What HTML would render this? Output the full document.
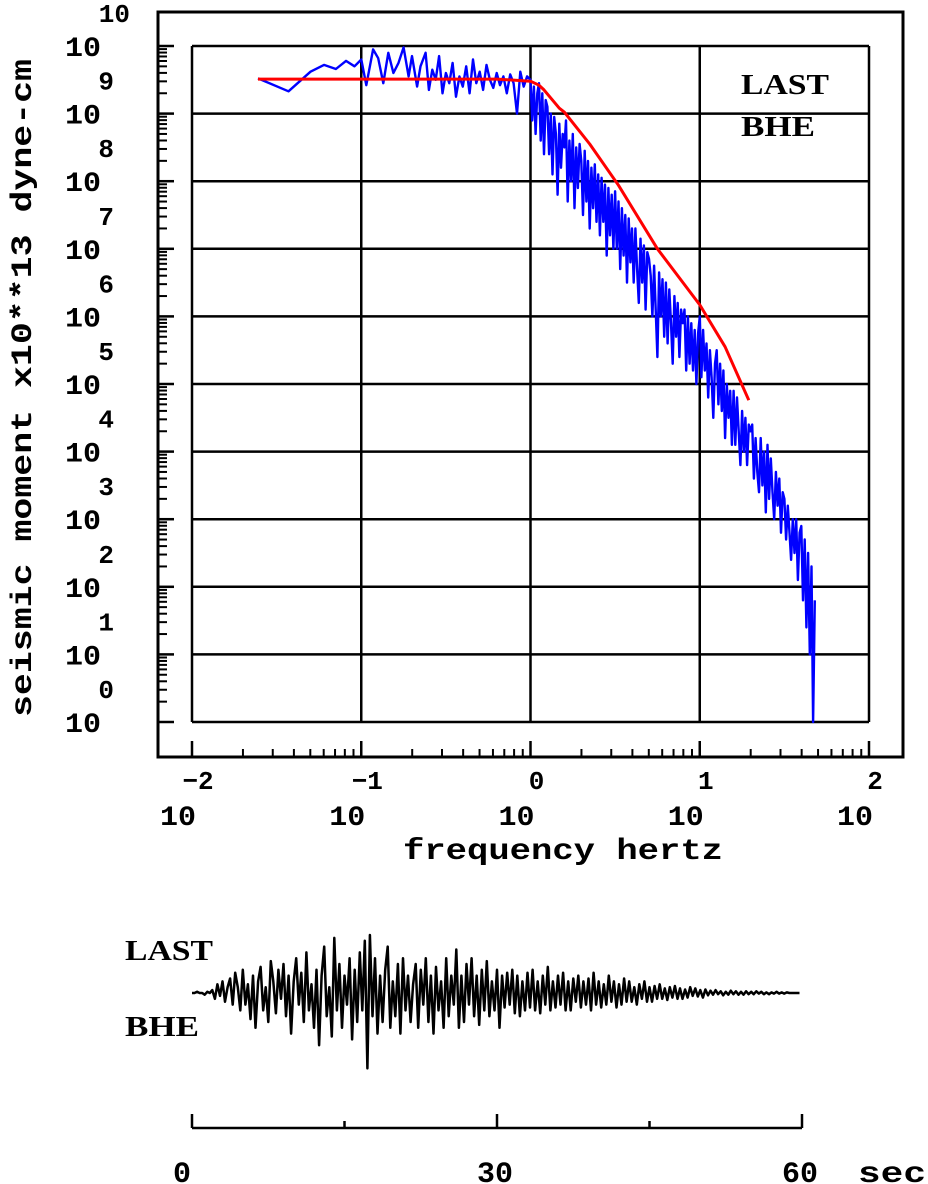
<!DOCTYPE html>
<html><head><meta charset="utf-8"><style>
html,body{margin:0;padding:0;background:#fff;}
svg{display:block;}
text{font-family:"Liberation Mono",monospace;font-weight:bold;fill:#000;}
.serif{font-family:"Liberation Serif",serif;}
</style></head><body>
<svg id="chart" width="928" height="1184" viewBox="0 0 928 1184" xmlns="http://www.w3.org/2000/svg">
<g id="frame"></g>
<g id="seis"></g>
</svg>
<script>
// ---- spectrum data (log10 frequency, log10 moment) ----
const specLogF = [-1.61,-1.43,-1.30,-1.22,-1.15,-1.09,-1.04,-1.00,-0.97,-0.93,-0.90,-0.87,-0.84,-0.81,-0.78,-0.75,-0.72,-0.70,-0.67,-0.65,-0.62,-0.60,-0.58,-0.56,-0.54,-0.52,-0.50,-0.48,-0.46,-0.44,-0.42,-0.40,-0.38,-0.36,-0.34,-0.32,-0.30,-0.28,-0.26,-0.24,-0.22,-0.20,-0.18,-0.16,-0.14,-0.12,-0.10,-0.08,-0.06,-0.04,-0.02];
const specLogM = [9.52,9.33,9.62,9.72,9.66,9.78,9.70,9.80,9.42,9.95,9.82,9.45,9.90,9.60,9.75,9.98,9.55,9.85,9.40,9.70,9.90,9.35,9.65,9.50,9.85,9.30,9.60,9.45,9.75,9.25,9.55,9.40,9.70,9.30,9.80,9.45,9.62,9.35,9.72,9.50,9.38,9.60,9.42,9.55,9.30,9.58,9.45,9.00,9.62,9.40,9.55];
const denseLogM = [
9.5,8.9,9.4,8.7,9.3,9.45,8.6,9.3,8.4,9.2,
9.1,8.4,9.0,8.1,8.95,8.7,7.8,8.85,8.2,8.7,
8.5,8.9,7.7,8.6,8.0,8.7,7.6,8.5,7.9,8.55,
8.3,7.5,8.45,7.7,8.3,7.3,8.2,7.6,8.25,7.4,
8.1,7.2,8.05,7.4,7.95,6.9,7.9,7.2,7.8,7.0,
7.85,7.0,7.7,6.7,7.6,6.9,7.5,6.5,7.45,6.8,
7.3,6.5,7.3,6.7,6.2,7.15,6.5,7.05,6.1,6.95,
6.85,6.6,6.0,6.75,6.1,5.4,6.65,6.0,6.55,5.7,
6.5,5.6,6.4,5.9,5.3,6.3,5.7,6.2,5.4,6.1,
5.9,6.1,5.2,6.0,5.3,5.9,5.2,5.8,5.0,5.75,
6.0,5.1,5.8,5.2,5.6,4.8,5.5,5.1,4.5,5.3,
5.5,4.7,5.3,4.6,5.2,4.2,5.0,4.5,4.9,4.1,
4.9,4.1,4.8,4.3,3.8,4.6,4.0,4.5,3.8,4.4,
4.3,4.4,3.6,4.2,3.7,3.4,4.2,3.5,4.0,3.1,
4.1,3.3,3.9,3.4,3.0,3.7,3.2,3.6,2.8,3.4,
3.3,2.7,3.2,2.8,2.4,3.0,2.5,3.0,2.1,2.8,
2.9,1.8,2.7,1.4,2.5,1.0,2.3,0.0,1.8];
const denseStartLogF = 0.0, denseStepLogF = 0.01;
const modelLogF = [-1.61,-0.2,0.0,0.05,0.08,0.17,0.2,0.35,0.52,0.75,1.0,1.15,1.29];
const modelLogM = [9.51,9.51,9.48,9.42,9.35,9.08,9.02,8.55,7.94,7.0,6.17,5.55,4.76];
const yDecades = [0,1,2,3,4,5,6,7,8,9,10];
const xDecades = [-2,-1,0,1,2];
// ---- seismogram data (4 samples per second, normalized amplitude) ----
const seisValues = [
0,0,0.02,0, 0,-0.03,0.02,0, 0.05,-0.1,0.15,-0.05, 0.2,-0.15,0.1,0.25, -0.2,0.35,0.1,-0.3,
0.4,-0.2,0.15,-0.45, 0.3,-0.6,0.2,0.45, -0.3,0.1,-0.5,0.55, 0.2,-0.35,0.4,-0.1, 0.5,-0.4,0.3,-0.7,
0.2,0.6,-0.2,0.35, -0.5,0.7,-0.3,0.15, -0.6,0.4,-0.9,0.3, 0.8,-0.4,0.1,-0.75, 0.95,-0.3,0.5,-0.6,
0.3,-0.2,0.6,-0.8, 0.4,-0.5,0.7,-0.3, 0.9,-1.3,1.0,-0.4, 0.6,-0.7,0.3,-0.5, 0.4,0.8,-0.6,0.2,
-0.4,0.5,-0.7,0.6, -0.3,0.3,-0.5,0.15, 0.5,-0.6,0.4,-0.2, 0.6,-0.5,0.3,-0.7, 0.45,-0.3,0.2,-0.6,
0.6,-0.4,0.3,-0.2, 0.75,-0.6,0.3,-0.5, 0.5,-0.2,0.6,-0.4, 0.3,-0.55,0.4,-0.3, 0.55,-0.4,0.2,-0.3,
0.4,-0.6,0.3,-0.25, 0.35,-0.2,0.4,-0.35, 0.3,-0.4,0.2,-0.3, 0.35,-0.25,0.4,-0.3, 0.2,-0.35,0.3,-0.2,
0.45,-0.3,0.2,-0.25, 0.3,-0.2,0.35,-0.3, 0.2,-0.3,0.25,-0.15, 0.3,-0.25,0.2,-0.2, 0.25,-0.3,0.35,-0.2,
0.2,-0.25,0.15,-0.2, 0.3,-0.15,0.2,-0.25, 0.15,-0.2,0.25,-0.15, 0.2,-0.15,0.1,-0.2, 0.15,-0.1,0.2,-0.15,
0.1,-0.15,0.12,-0.1, 0.15,-0.1,0.08,-0.12, 0.1,-0.08,0.12,-0.1, 0.08,-0.1,0.06,-0.08, 0.1,-0.05,0.08,-0.06,
0.05,-0.08,0.06,-0.04, 0.04,-0.03,0.05,-0.02, 0.03,-0.04,0.02,-0.03, 0.04,-0.02,0.03,-0.03, 0.02,-0.03,0.03,-0.02,
0.02,-0.02,0.03,-0.01, 0.02,-0.02,0.01,-0.02, 0.01,-0.01,0.02,-0.01, 0.01,-0.01,0.01,0, 0,0,0,0];
const seisRate = 4;
const timeTicks = [0,15,30,45,60];
const timeLabels = [0,30,60];

const NS='http://www.w3.org/2000/svg';
function mk(parent,tag,attrs,txt){const e=document.createElementNS(NS,tag);for(const k in attrs)e.setAttribute(k,attrs[k]);if(txt!==undefined)e.textContent=txt;parent.appendChild(e);return e;}
const X0=192,X1=869,Y0=722,Y1=46;
const xs=lf=>X0+(lf+2)*(X1-X0)/4;
const ys=lm=>Y0-lm*(Y0-Y1)/10;
const g=document.getElementById('frame');

let e=mk(g,'path',{d:'M158 12 H903 V757 H158 Z',fill:'none',stroke:'#000','stroke-width':3});


yDecades.forEach(d=>{const l=mk(g,'line',{x1:X0,x2:X1,y1:ys(d),y2:ys(d),stroke:'#000','stroke-width':2.5});

});
xDecades.forEach(d=>{const l=mk(g,'line',{x1:xs(d),x2:xs(d),y1:Y1,y2:Y0,stroke:'#000','stroke-width':2.5});

});
yDecades.forEach(d=>{
  const t=mk(g,'line',{x1:158,x2:174,y1:ys(d),y2:ys(d),stroke:'#000','stroke-width':2.5});
  
  
  if(d<10){for(let m=2;m<=9;m++){const yy=ys(d+Math.log10(m));const mt=mk(g,'line',{x1:158,x2:167,y1:yy,y2:yy,stroke:'#000','stroke-width':2});
  
  }}
  const b=mk(g,'text',{x:101,y:ys(d)+10,'text-anchor':'end','font-size':28,textLength:36,lengthAdjust:'spacingAndGlyphs'},'10');
  
  
  const ex=mk(g,'text',{x:d==10?130:114,y:ys(d)-24,'text-anchor':'end','font-size':26},String(d));
  
  
});
xDecades.forEach(d=>{
  const t=mk(g,'line',{x1:xs(d),x2:xs(d),y1:757,y2:741,stroke:'#000','stroke-width':2.5});
  
  
  if(d<2){for(let m=2;m<=9;m++){const xx=xs(d+Math.log10(m));const mt=mk(g,'line',{x1:xx,x2:xx,y1:757,y2:749,stroke:'#000','stroke-width':2});
  
  }}
  const b=mk(g,'text',{x:xs(d)-14,y:825,'text-anchor':'middle','font-size':28,textLength:36,lengthAdjust:'spacingAndGlyphs'},'10');
  
  
  const ex=mk(g,'text',{x:xs(d)+6,y:789,'text-anchor':'middle','font-size':26},(d<0?'\u2212':'')+Math.abs(d));
  
  
});
e=mk(g,'text',{x:563,y:859,'text-anchor':'middle','font-size':30,textLength:320,lengthAdjust:'spacingAndGlyphs'},'frequency  hertz');


e=mk(g,'text',{x:0,y:0,'text-anchor':'middle','font-size':30,textLength:658,lengthAdjust:'spacingAndGlyphs',transform:'translate(31,388) rotate(-90)'},'seismic moment x10**13 dyne-cm');


e=mk(g,'text',{x:741,y:94,'font-size':29,class:'serif',textLength:88,lengthAdjust:'spacingAndGlyphs'},'LAST');


e=mk(g,'text',{x:741,y:136,'font-size':29,class:'serif',textLength:74,lengthAdjust:'spacingAndGlyphs'},'BHE');


let pts=[];
specLogF.forEach((f,i)=>pts.push(xs(f).toFixed(1)+','+ys(specLogM[i]).toFixed(1)));
denseLogM.forEach((m,i)=>pts.push(xs(denseStartLogF+i*denseStepLogF).toFixed(1)+','+ys(m).toFixed(1)));
e=mk(g,'polyline',{points:pts.join(' '),fill:'none',stroke:'#0000ff','stroke-width':2.4,'stroke-linejoin':'round'});


pts=modelLogF.map((f,i)=>xs(f).toFixed(1)+','+ys(modelLogM[i]).toFixed(1));
e=mk(g,'polyline',{points:pts.join(' '),fill:'none',stroke:'#ff0000','stroke-width':3,'stroke-linejoin':'round'});



const s=document.getElementById('seis');
const T0=192,T1=802,BASE=993,AMP=58;
const ts=t=>T0+t*(T1-T0)/60;
pts=seisValues.map((v,i)=>ts(i/seisRate).toFixed(1)+','+(BASE-v*AMP).toFixed(1));
e=mk(s,'polyline',{points:pts.join(' '),fill:'none',stroke:'#000','stroke-width':2.5,'stroke-linejoin':'round'});


e=mk(s,'text',{x:125,y:960,'font-size':29,class:'serif',textLength:88,lengthAdjust:'spacingAndGlyphs'},'LAST');


e=mk(s,'text',{x:125,y:1036,'font-size':29,class:'serif',textLength:74,lengthAdjust:'spacingAndGlyphs'},'BHE');


e=mk(s,'line',{x1:T0,x2:T1,y1:1128,y2:1128,stroke:'#000','stroke-width':2.5});


timeTicks.forEach(t=>{const major=t%30===0;const l=mk(s,'line',{x1:ts(t),x2:ts(t),y1:1128,y2:major?1114:1121,stroke:'#000','stroke-width':2.5});

});
timeLabels.forEach(t=>{const l=mk(s,'text',{x:ts(t)-(t===0?10:2),y:1182,'text-anchor':'middle','font-size':30},String(t));

});
e=mk(s,'text',{x:858,y:1182,'font-size':30,textLength:68,lengthAdjust:'spacingAndGlyphs'},'sec');


</script>
</body></html>
